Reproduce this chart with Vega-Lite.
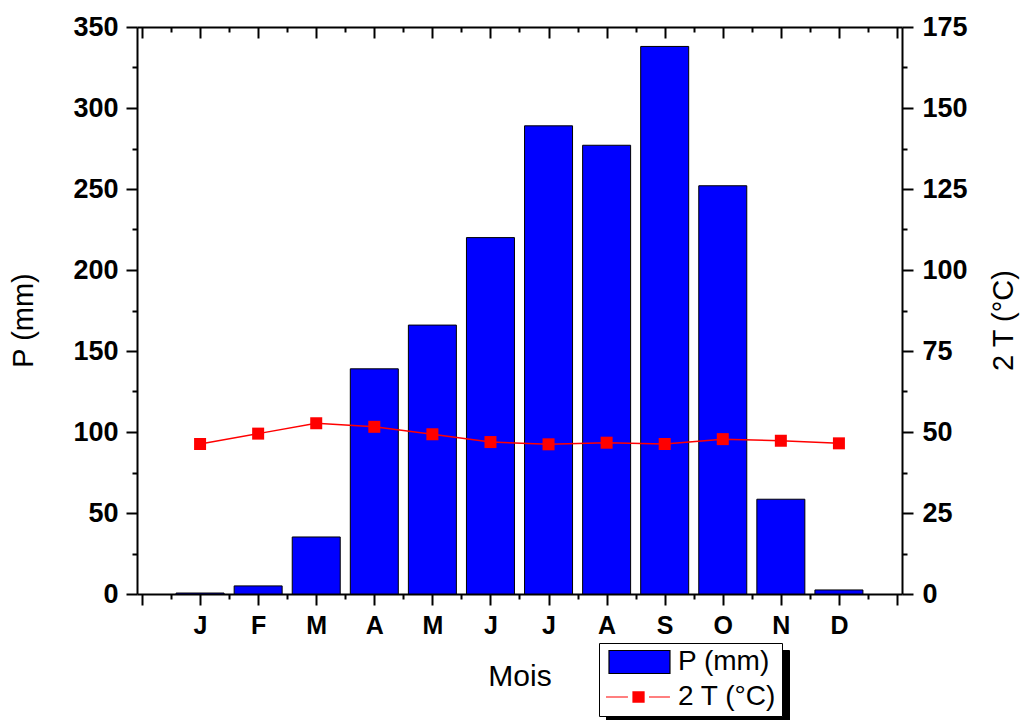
{
  "$schema": "https://vega.github.io/schema/vega-lite/v6.json",
  "width": 765,
  "height": 567,
  "autosize": "none",
  "padding": {"left": 137, "top": 27, "right": 121, "bottom": 126},
  "background": "white",
  "config": {
    "font": "Liberation Sans",
    "view": {"stroke": null},
    "axis": {
      "grid": false,
      "domainColor": "black",
      "tickColor": "black",
      "labelColor": "black",
      "titleColor": "black",
      "domainWidth": 2,
      "tickWidth": 2,
      "labelFont": "Liberation Sans",
      "titleFont": "Liberation Sans",
      "labelOverlap": false,
      "labelFlush": false
    }
  },
  "datasets": {
    "mois": [
      {"m": 1, "mois": "J", "P": 0.6, "T2": 46.3},
      {"m": 2, "mois": "F", "P": 5, "T2": 49.5},
      {"m": 3, "mois": "M", "P": 35.2, "T2": 52.7},
      {"m": 4, "mois": "A", "P": 139, "T2": 51.6},
      {"m": 5, "mois": "M", "P": 166, "T2": 49.3},
      {"m": 6, "mois": "J", "P": 220, "T2": 46.9},
      {"m": 7, "mois": "J", "P": 289, "T2": 46.2},
      {"m": 8, "mois": "A", "P": 277, "T2": 46.7},
      {"m": 9, "mois": "S", "P": 338, "T2": 46.3},
      {"m": 10, "mois": "O", "P": 252, "T2": 47.8},
      {"m": 11, "mois": "N", "P": 58.5, "T2": 47.3},
      {"m": 12, "mois": "D", "P": 2.5, "T2": 46.5}
    ],
    "legende": [
      {"series": "P (mm)"},
      {"series": "2 T (°C)"}
    ]
  },
  "resolve": {"scale": {"y": "independent"}, "axis": {"x": "independent", "y": "independent"}},
  "layer": [
    {
      "resolve": {"axis": {"x": "independent", "y": "independent"}},
      "layer": [
        {
          "data": {"name": "mois"},
          "mark": {"type": "bar", "width": 48, "fill": "#0000ff", "stroke": "#000000", "strokeWidth": 1},
          "encoding": {
            "x": {
              "field": "m", "type": "quantitative",
              "scale": {"domain": [0, 13], "nice": false, "zero": false},
              "axis": {
                "orient": "bottom",
                "values": [0, 1, 2, 3, 4, 5, 6, 7, 8, 9, 10, 11, 12, 13],
                "tickSize": 11,
                "labelExpr": "['','J','F','M','A','M','J','J','A','S','O','N','D',''][datum.value]",
                "labelFontSize": 25,
                "labelFontWeight": "bold",
                "labelPadding": 28,
                "labelBaseline": "alphabetic",
                "title": "Mois",
                "titleFontSize": 30,
                "titleFontWeight": "normal",
                "titleX": 382.5,
                "titleY": 91,
                "titleBaseline": "alphabetic",
                "titleAlign": "center"
              }
            },
            "y": {
              "field": "P", "type": "quantitative",
              "scale": {"domain": [0, 350], "nice": false},
              "axis": {
                "orient": "left",
                "values": [0, 50, 100, 150, 200, 250, 300, 350],
                "tickSize": 11,
                "labelFontSize": 27,
                "labelFontWeight": "bold",
                "labelPadding": 8,
                "title": "P (mm)",
                "titleFontSize": 29,
                "titleFontWeight": "normal",
                "titleAngle": -90,
                "titleX": -105,
                "titleY": 293,
                "titleBaseline": "alphabetic",
                "titleAlign": "center"
              }
            }
          }
        },
        {
          "data": {"name": "legende"},
          "mark": {"type": "point", "filled": true, "opacity": 0},
          "encoding": {
            "x": {
              "datum": 1, "type": "quantitative",
              "axis": {
                "orient": "bottom",
                "values": [0.5, 1.5, 2.5, 3.5, 4.5, 5.5, 6.5, 7.5, 8.5, 9.5, 10.5, 11.5, 12.5],
                "tickSize": 5, "labels": false, "domain": false, "title": null
              }
            },
            "y": {
              "datum": 0, "type": "quantitative",
              "axis": {
                "orient": "left",
                "values": [25, 75, 125, 175, 225, 275, 325],
                "tickSize": 5, "labels": false, "domain": false, "title": null
              }
            },
            "color": {
              "field": "series", "type": "nominal",
              "scale": {"domain": ["P (mm)", "2 T (°C)"], "range": ["#0000ff", "#ff0000"]},
              "legend": {
                "orient": "none",
                "legendX": 462,
                "legendY": 616,
                "zindex": 1,
                "title": null,
                "fillColor": "white",
                "strokeColor": "black",
                "padding": 5,
                "rowPadding": 7,
                "symbolSize": 576,
                "symbolOpacity": 1,
                "labelFont": "Liberation Sans",
                "labelFontSize": 28,
                "labelColor": "black",
                "labelOffset": 46,
                "encode": {
                  "symbols": {
                    "update": {
                      "stroke": {"signal": "datum.value === 'P (mm)' ? '#000000' : '#ff0000'"},
                      "strokeWidth": {"value": 1.2}
                    }
                  }
                }
              }
            },
            "shape": {
              "field": "series", "type": "nominal",
              "scale": {
                "domain": ["P (mm)", "2 T (°C)"],
                "range": ["M-0.75,-0.96H4.33V0.96H-0.75Z", "M-1,0H0.83M1.25,-0.42H2.17V0.42H1.25ZM2.58,0H4.33"]
              }
            },
            "size": {
              "field": "series", "type": "nominal",
              "scale": {"range": [576, 576]},
              "legend": {
                "orient": "none",
                "legendX": 469,
                "legendY": 623,
                "zindex": 0,
                "title": null,
                "fillColor": "black",
                "strokeColor": "black",
                "padding": 5,
                "rowPadding": 7,
                "symbolFillColor": "black",
                "symbolStrokeColor": "black",
                "symbolOpacity": 1,
                "labelFont": "Liberation Sans",
                "labelFontSize": 28,
                "labelColor": "black",
                "labelOffset": 46
              }
            }
          }
        }
      ]
    },
    {
      "resolve": {"axis": {"x": "independent", "y": "independent"}},
      "layer": [
        {
          "data": {"name": "mois"},
          "mark": {"type": "line", "color": "#ff0000", "strokeWidth": 1.5},
          "encoding": {
            "x": {
              "field": "m", "type": "quantitative",
              "scale": {"domain": [0, 13], "nice": false, "zero": false},
              "axis": {
                "orient": "top",
                "values": [0, 1, 2, 3, 4, 5, 6, 7, 8, 9, 10, 11, 12, 13],
                "tickSize": -11, "labels": false, "title": null
              }
            },
            "y": {
              "field": "T2", "type": "quantitative",
              "scale": {"domain": [0, 175], "nice": false},
              "axis": {
                "orient": "right",
                "values": [0, 25, 50, 75, 100, 125, 150, 175],
                "tickSize": 11,
                "labelFontSize": 27,
                "labelFontWeight": "bold",
                "labelPadding": 9,
                "title": "2 T (°C)",
                "titleFontSize": 29,
                "titleFontWeight": "normal",
                "titleAngle": -90,
                "titleX": 110,
                "titleY": 293,
                "titleBaseline": "alphabetic",
                "titleAlign": "center"
              }
            }
          }
        },
        {
          "data": {"name": "mois"},
          "mark": {"type": "point", "shape": "square", "filled": true, "color": "#ff0000", "size": 144, "opacity": 1},
          "encoding": {
            "x": {
              "field": "m", "type": "quantitative",
              "axis": {
                "orient": "top",
                "values": [0.5, 1.5, 2.5, 3.5, 4.5, 5.5, 6.5, 7.5, 8.5, 9.5, 10.5, 11.5, 12.5],
                "tickSize": -5, "labels": false, "domain": false, "title": null
              }
            },
            "y": {
              "field": "T2", "type": "quantitative",
              "axis": {
                "orient": "right",
                "values": [12.5, 37.5, 62.5, 87.5, 112.5, 137.5, 162.5],
                "tickSize": 5, "labels": false, "domain": false, "title": null
              }
            }
          }
        }
      ]
    }
  ]
}
